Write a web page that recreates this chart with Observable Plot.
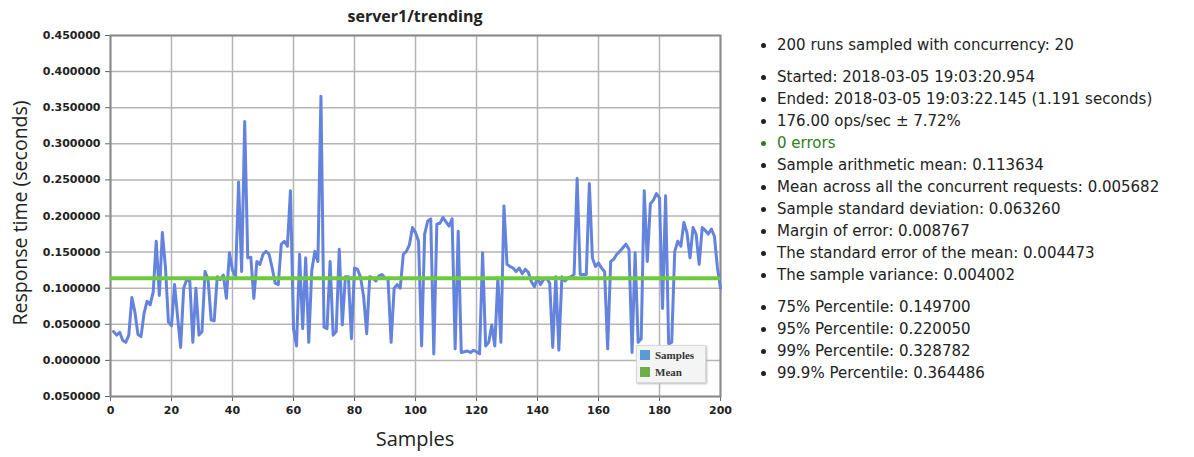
<!DOCTYPE html>
<html>
<head>
<meta charset="utf-8">
<script src="https://cdn.jsdelivr.net/npm/d3@7"></script>
<script src="https://cdn.jsdelivr.net/npm/@observablehq/plot@0.6"></script>
<style>
  html, body { margin: 0; padding: 0; background: #fff; }
  #wrap { position: relative; width: 1194px; height: 457px; overflow: hidden; }
  #title { position: absolute; left: 110px; width: 610px; top: 5px; text-align: center;
           font: bold 16px "Open Sans", sans-serif; color: #222; }
  #ylabel { position: absolute; left: 19px; top: 213px; transform: translate(-50%, -50%) rotate(-90deg);
            white-space: nowrap; font: 19.5px "Open Sans", sans-serif; color: #222; }
  #xlabel { position: absolute; left: 110px; width: 610px; top: 425px; text-align: center;
            font: 20px "Open Sans", sans-serif; color: #222; }
  #legend { position: absolute; left: 636px; top: 345px; width: 68px; height: 36px; background: #f4f4f4;
            border: 1px solid #d8d8d8; box-shadow: 1px 1px 2px #bbb;
            font: bold 11px "Liberation Serif", "DejaVu Serif", serif; color: #333; }
  #legend div { display: flex; align-items: center; height: 17px; padding-left: 3px; }
  #legend span.sw { display: inline-block; width: 10px; height: 10px; margin-right: 5px; }
  #stats { position: absolute; left: 752px; top: 34px; font: 15px "DejaVu Sans", sans-serif; color: #222; }
  #stats ul { margin: 0; padding: 0 0 0 25px; }
  #stats li { line-height: 22px; }
  #stats ul + ul { margin-top: 10px; }
</style>
</head>
<body>
<div id="wrap">
  <div id="chart"></div>
  <div id="title"></div>
  <div id="ylabel"></div>
  <div id="xlabel"></div>
  <div id="legend"></div>
  <div id="stats"></div>
</div>
<script>
// ---- data ----
const chartTitle = "server1/trending";
const yTitle = "Response time (seconds)";
const xTitle = "Samples";
const seriesNames = ["Samples", "Mean"];
const seriesColors = ["#6483dc", "#6ccb3c"];
const legendColors = ["#5b9bd5", "#70ad47"];

const responseTimes = [
  0.040, 0.035, 0.039, 0.028, 0.025, 0.035, 0.087, 0.067, 0.036, 0.033,
  0.065, 0.082, 0.077, 0.095, 0.165, 0.090, 0.177, 0.130, 0.053, 0.048,
  0.105, 0.060, 0.018, 0.100, 0.112, 0.110, 0.025, 0.100, 0.035, 0.040,
  0.123, 0.112, 0.056, 0.055, 0.116, 0.112, 0.118, 0.086, 0.149, 0.125,
  0.116, 0.247, 0.123, 0.331, 0.142, 0.143, 0.086, 0.137, 0.133, 0.147,
  0.151, 0.147, 0.128, 0.107, 0.105, 0.161, 0.165, 0.158, 0.235, 0.044,
  0.020, 0.147, 0.044, 0.142, 0.025, 0.125, 0.151, 0.137, 0.366, 0.046,
  0.044, 0.137, 0.035, 0.040, 0.154, 0.049, 0.116, 0.116, 0.030, 0.128,
  0.126, 0.115, 0.088, 0.037, 0.116, 0.114, 0.110, 0.117, 0.119, 0.114,
  0.112, 0.025, 0.100, 0.105, 0.100, 0.147, 0.151, 0.160, 0.184, 0.177,
  0.165, 0.020, 0.175, 0.193, 0.196, 0.009, 0.189, 0.190, 0.198, 0.192,
  0.186, 0.196, 0.016, 0.179, 0.011, 0.012, 0.013, 0.011, 0.014, 0.012,
  0.009, 0.149, 0.020, 0.025, 0.049, 0.020, 0.114, 0.025, 0.214, 0.133,
  0.130, 0.128, 0.123, 0.128, 0.120, 0.126, 0.122, 0.109, 0.102, 0.115,
  0.105, 0.112, 0.114, 0.107, 0.018, 0.116, 0.014, 0.116, 0.110, 0.114,
  0.116, 0.119, 0.252, 0.119, 0.119, 0.119, 0.245, 0.142, 0.130, 0.135,
  0.128, 0.123, 0.016, 0.137, 0.140, 0.147, 0.151, 0.156, 0.161, 0.154,
  0.011, 0.149, 0.025, 0.030, 0.235, 0.137, 0.217, 0.222, 0.231, 0.225,
  0.072, 0.228, 0.023, 0.025, 0.151, 0.165, 0.158, 0.191, 0.177, 0.142,
  0.184, 0.175, 0.133, 0.184, 0.180, 0.175, 0.182, 0.172, 0.128, 0.100
];
const meanValue = 0.113634;

const xTicks = [0, 20, 40, 60, 80, 100, 120, 140, 160, 180, 200];
const yTicks = [-0.05, 0, 0.05, 0.10, 0.15, 0.20, 0.25, 0.30, 0.35, 0.40, 0.45];

const statsGroups = [
  ["200 runs sampled with concurrency: 20"],
  ["Started: 2018-03-05 19:03:20.954",
   "Ended: 2018-03-05 19:03:22.145 (1.191 seconds)",
   "176.00 ops/sec ± 7.72%",
   "0 errors",
   "Sample arithmetic mean: 0.113634",
   "Mean across all the concurrent requests: 0.005682",
   "Sample standard deviation: 0.063260",
   "Margin of error: 0.008767",
   "The standard error of the mean: 0.004473",
   "The sample variance: 0.004002"],
  ["75% Percentile: 0.149700",
   "95% Percentile: 0.220050",
   "99% Percentile: 0.328782",
   "99.9% Percentile: 0.364486"]
];
const greenItem = "0 errors";

// ---- chart ----
const table = responseTimes.map((v, i) => ({sample: i + 1, value: v}));
const fmt = d3.format(".6f");

const plot = Plot.plot({
  width: 740,
  height: 457,
  marginTop: 35,
  marginLeft: 110,
  marginRight: 20,
  marginBottom: 61,
  style: {fontFamily: "DejaVu Sans", fontSize: "11px", fontWeight: "bold", color: "#222", background: "#fff"},
  x: {domain: [0, 200]},
  y: {domain: [-0.05, 0.45]},
  marks: [
    Plot.gridX(xTicks, {stroke: "#b5b5b5", strokeOpacity: 1, strokeWidth: 1.5}),
    Plot.gridY(yTicks, {stroke: "#b5b5b5", strokeOpacity: 1, strokeWidth: 1.5}),
    Plot.axisX(xTicks, {tickSize: 5, tickPadding: 5, label: null, tickFormat: d => String(d), stroke: "#666"}),
    Plot.axisY(yTicks, {tickSize: 5, tickPadding: 5, label: null, tickFormat: d => fmt(Math.abs(d)), stroke: "#666"}),
    Plot.frame({stroke: "#8a8a8a", strokeWidth: 2}),
    Plot.line(table, {x: "sample", y: "value", stroke: seriesColors[0], strokeWidth: 3, strokeLinejoin: "round"}),
    Plot.ruleY([meanValue], {stroke: seriesColors[1], strokeWidth: 4})
  ]
});
document.getElementById("chart").appendChild(plot);

document.getElementById("title").textContent = chartTitle;
document.getElementById("ylabel").textContent = yTitle;
document.getElementById("xlabel").textContent = xTitle;

const legend = document.getElementById("legend");
seriesNames.forEach((name, i) => {
  const row = document.createElement("div");
  const sw = document.createElement("span");
  sw.className = "sw";
  sw.style.background = legendColors[i];
  row.appendChild(sw);
  row.appendChild(document.createTextNode(name));
  legend.appendChild(row);
});

const stats = document.getElementById("stats");
statsGroups.forEach(group => {
  const ul = document.createElement("ul");
  group.forEach(t => {
    const li = document.createElement("li");
    li.textContent = t;
    if (t === greenItem) li.style.color = "#2e7d1e";
    ul.appendChild(li);
  });
  stats.appendChild(ul);
});
</script>
</body>
</html>
